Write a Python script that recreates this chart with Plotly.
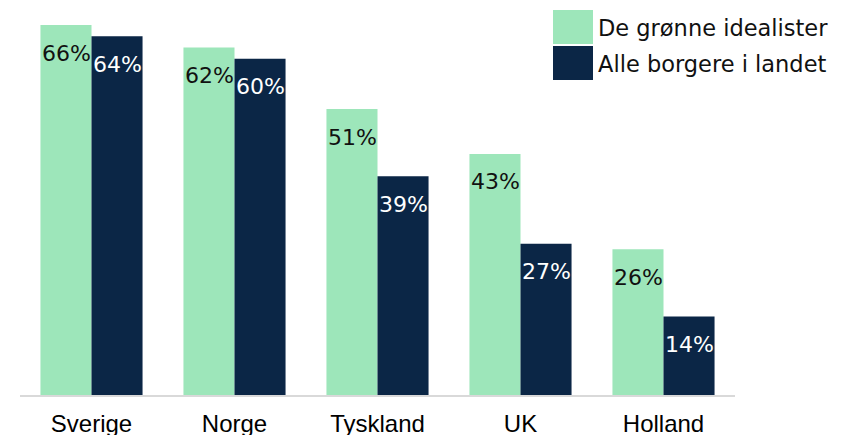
import plotly.graph_objects as go

# data
landene = ['Sverige', 'Norge', 'Tyskland', 'UK', 'Holland']
gronne = [66, 62, 51, 43, 26]
alle = [64, 60, 39, 27, 14]
serie_navn = ['De grønne idealister', 'Alle borgere i landet']

GRONN = '#9de6ba'
MORK = '#0b2646'
LABEL_FONT = 'DejaVu Sans'

# plott-området i vinduet (siden har 8px marg rundt figuren)
PX0, PW = 20, 715
PBOT, PH = 395, 387


def px_x(x):
    return (x - PX0) / PW


def px_y(y):
    return (PBOT - y) / PH


fig = go.Figure()
fig.add_trace(go.Bar(x=landene, y=gronne, name=serie_navn[0],
                     marker_color=GRONN, marker_line_width=0))
fig.add_trace(go.Bar(x=landene, y=alle, name=serie_navn[1],
                     marker_color=MORK, marker_line_width=0))

# verdietiketter inne i stolpene, litt under toppen
for navn, verdier, dx, farge in [(serie_navn[0], gronne, -25.5, '#111111'),
                                 (serie_navn[1], alle, 25.5, '#ffffff')]:
    for land, v in zip(landene, verdier):
        fig.add_annotation(x=land, y=v, text=f'{v}%', showarrow=False,
                           xshift=dx, yshift=-28,
                           font=dict(family=LABEL_FONT, size=22, color=farge))

# egen forklaring med store firkanter
for i, (navn, farge) in enumerate(zip(serie_navn, [GRONN, MORK])):
    top = 10 + i * 36
    fig.add_shape(type='rect', xref='paper', yref='paper',
                  x0=px_x(553), x1=px_x(593),
                  y0=px_y(top + 34), y1=px_y(top),
                  fillcolor=farge, line_width=0)
    fig.add_annotation(xref='paper', yref='paper', x=px_x(596),
                       y=px_y(top + 18), xanchor='left', yanchor='middle',
                       text=navn, showarrow=False,
                       font=dict(family=LABEL_FONT, size=22.5, color='#111111'))

fig.update_layout(
    width=843, height=435,
    margin=dict(l=PX0 - 8, r=843 - (PX0 - 8) - PW, t=0, b=435 + 8 - PBOT),
    barmode='group', bargap=0.286, bargroupgap=0,
    showlegend=False,
    plot_bgcolor='white', paper_bgcolor='white',
    xaxis=dict(showline=True, linecolor='#d9d9d9', linewidth=2,
               tickfont=dict(family='Liberation Sans', size=24, color='#000000'),
               ticks='', ticklabelstandoff=6),
    yaxis=dict(range=[0, PH / 5.606], visible=False, showgrid=False),
)

fig.write_html('out.html')
